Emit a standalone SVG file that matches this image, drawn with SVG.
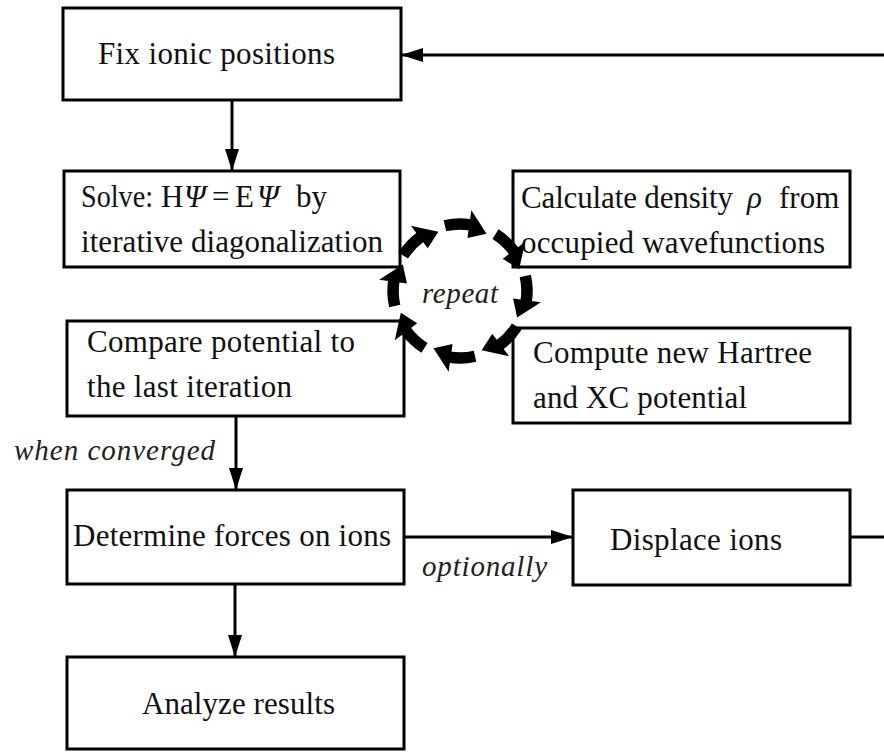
<svg xmlns="http://www.w3.org/2000/svg" xmlns:xlink="http://www.w3.org/1999/xlink" width="884" height="752" viewBox="0 0 884 752">
<style>
.box{fill:#fff;stroke:#000;stroke-width:3}
.t{font-family:"Liberation Serif","Times New Roman",serif;font-size:31px;fill:#111}
.i{font-family:"Liberation Serif","Times New Roman",serif;font-style:italic;font-size:29px;fill:#222}
.m{font-style:italic}
.conn{stroke:#000;stroke-width:3;fill:none}
.arc{stroke:#000;stroke-width:11.5;fill:none}
</style>
<defs>
<marker id="ah" markerUnits="userSpaceOnUse" markerWidth="22" markerHeight="14" refX="22" refY="7" orient="auto">
<path d="M0,0 L22,7 L0,14 z" fill="#000"/>
</marker>
<g id="seg">
<path class="arc" d="M53.5,-40.3 A67,67 0 0 1 64.7,-17.3"/>
<polygon points="51.5,-14.8 78.5,-22.5 63,1" fill="#000"/>
</g>
</defs>
<rect width="884" height="752" fill="#fff"/>

<g id="connectors">
<path class="conn" d="M232,100 V171" marker-end="url(#ah)"/>
<path class="conn" d="M236,416 V490" marker-end="url(#ah)"/>
<path class="conn" d="M235,584 V657" marker-end="url(#ah)"/>
<path class="conn" d="M404,537 H573" marker-end="url(#ah)"/>
<path class="conn" d="M850,537 H884"/>
<path class="conn" d="M884,55 H401" marker-end="url(#ah)"/>
</g>

<g id="fix">
<rect class="box" x="63" y="8" width="338" height="92"/>
<text class="t" x="98" y="64" textLength="237">Fix ionic positions</text>
</g>

<g id="solve">
<rect class="box" x="64" y="171" width="336" height="96"/>
<text class="t" x="81" y="207" textLength="72" lengthAdjust="spacingAndGlyphs">Solve:</text>
<text class="t" x="161" y="207">H</text>
<text class="t m" x="184" y="207">Ψ</text>
<text class="t" x="212" y="207">=</text>
<text class="t" x="235" y="207">E</text>
<text class="t m" x="257" y="207">Ψ</text>
<text class="t" x="296" y="207">by</text>
<text class="t" x="81" y="252" textLength="302">iterative diagonalization</text>
</g>

<g id="calculate">
<rect class="box" x="513" y="171" width="337" height="96"/>
<text class="t" x="521" y="208" textLength="212">Calculate density</text>
<text class="t m" x="747" y="208">ρ</text>
<text class="t" x="779" y="208">from</text>
<text class="t" x="521" y="253" textLength="304">occupied wavefunctions</text>
</g>

<g id="compare">
<rect class="box" x="67" y="321" width="337" height="95"/>
<text class="t" x="87" y="352" textLength="268">Compare potential to</text>
<text class="t" x="87" y="397" textLength="205">the last iteration</text>
</g>

<g id="compute">
<rect class="box" x="513" y="328" width="337" height="95"/>
<text class="t" x="533" y="363" textLength="279">Compute new Hartree</text>
<text class="t" x="533" y="408" textLength="214">and XC potential</text>
</g>

<g id="determine">
<rect class="box" x="67" y="490" width="337" height="94"/>
<text class="t" x="73" y="546" textLength="318">Determine forces on ions</text>
</g>

<g id="displace">
<rect class="box" x="573" y="490" width="277" height="95"/>
<text class="t" x="610" y="550" textLength="172">Displace ions</text>
</g>

<g id="analyze">
<rect class="box" x="67" y="657" width="337" height="92"/>
<text class="t" x="142" y="714" textLength="193">Analyze results</text>
</g>

<g id="repeat-cycle" transform="translate(460,291)">
<use xlink:href="#seg" href="#seg" transform="rotate(-111)"/>
<use xlink:href="#seg" href="#seg" transform="rotate(-66)"/>
<use xlink:href="#seg" href="#seg" transform="rotate(-21)"/>
<use xlink:href="#seg" href="#seg" transform="rotate(24)"/>
<use xlink:href="#seg" href="#seg" transform="rotate(69)"/>
<use xlink:href="#seg" href="#seg" transform="rotate(114)"/>
<use xlink:href="#seg" href="#seg" transform="rotate(159)"/>
<use xlink:href="#seg" href="#seg" transform="rotate(204)"/>
</g>

<g id="labels">
<text class="i" x="422" y="303" textLength="76">repeat</text>
<text class="i" x="14" y="460" textLength="201">when converged</text>
<text class="i" x="422" y="576" textLength="125">optionally</text>
</g>
</svg>
